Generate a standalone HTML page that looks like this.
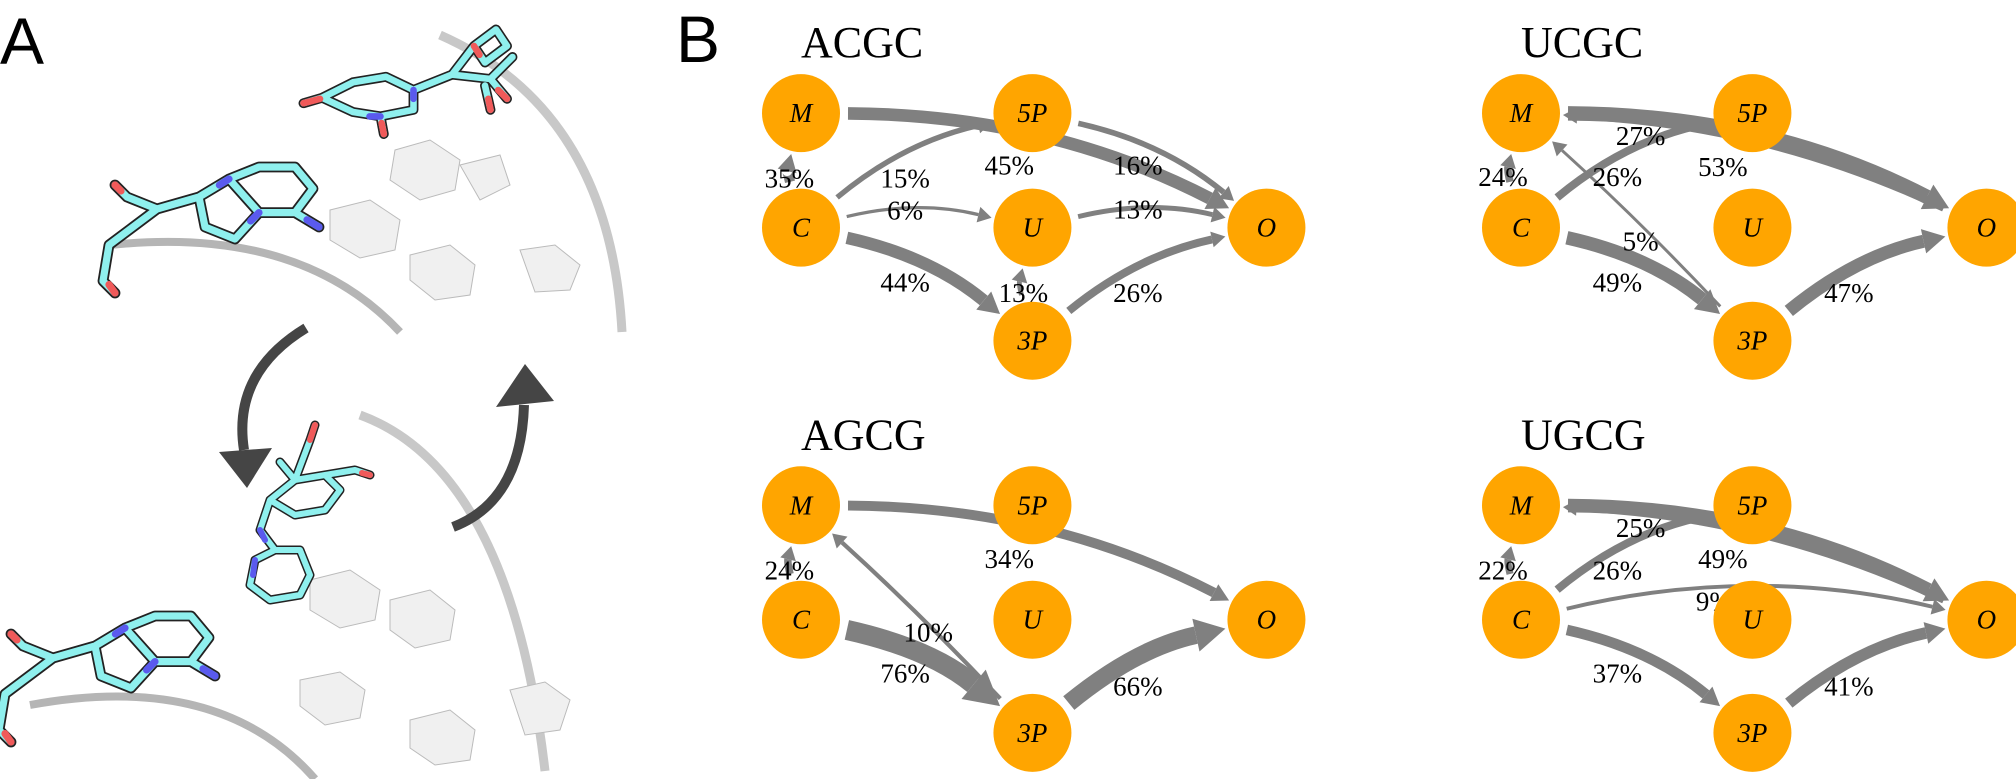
<!DOCTYPE html>
<html><head><meta charset="utf-8">
<style>
html,body{margin:0;padding:0;background:#fff;}
svg{display:block;}
.lbl{font-family:"Liberation Serif",serif;font-size:27px;fill:#000;}
.ttl{font-family:"Liberation Serif",serif;font-size:44px;fill:#000;}
.nd{font-family:"Liberation Serif",serif;font-style:italic;font-size:27px;fill:#000;}
</style></head>
<body>
<svg id="fig" width="2016" height="779" viewBox="0 0 2016 779" xmlns="http://www.w3.org/2000/svg">
<g id="panelA">
  <text x="0" y="64" font-family="Liberation Sans, sans-serif" font-size="66">A</text>
  <path d="M440,35 Q610,110 622,332" fill="none" stroke="#c8c8c8" stroke-width="9"/>
  <path d="M110,245 Q300,225 400,332" fill="none" stroke="#b5b5b5" stroke-width="8"/>
  <path d="M360,415 Q510,470 545,771" fill="none" stroke="#c8c8c8" stroke-width="9"/>
  <path d="M30,705 Q220,670 315,779" fill="none" stroke="#b5b5b5" stroke-width="8"/>
  <g fill="#f0f0f0" stroke="#bbb" stroke-width="1">
    <polygon points="395,150 430,140 460,160 455,190 420,200 390,180"/>
    <polygon points="460,165 500,155 510,185 480,200"/>
    <polygon points="330,210 370,200 400,220 395,250 360,258 330,240"/>
    <polygon points="410,255 450,245 475,265 470,295 435,300 410,280"/>
    <polygon points="520,250 555,245 580,265 570,290 535,292"/>
    <polygon points="310,580 350,570 380,590 375,620 340,628 310,610"/>
    <polygon points="390,600 430,590 455,610 450,640 415,648 390,630"/>
    <polygon points="300,680 340,672 365,690 360,718 325,725 300,706"/>
    <polygon points="410,720 450,710 475,730 470,760 435,765 410,748"/>
    <polygon points="510,690 545,682 570,700 560,730 525,735"/>
  </g>
  <defs>
    <path id="uracilTop" d="M302,107 L330,93 L360,88 L385,100 L385,118 L355,124 L330,120 Z M385,100 L420,86 L440,60 L460,45 L470,60 L450,75 L440,60 M420,86 L455,90 L470,108 M455,90 L475,70 M302,107 L285,112 M355,124 L358,140 M450,96 L455,118"/>
    <path id="adenine" d="M240,150 L265,140 L295,140 L310,158 L295,178 L265,178 Z M240,150 L215,165 L220,190 L245,200 L265,178 M295,178 L315,190 M215,165 L180,175 L155,165 L145,155 M180,175 L160,190 L140,205 L135,235 L145,245"/>
    <path id="midMol" d="M300,470 L325,450 L355,445 L370,460 L355,480 L325,485 Z M300,470 L290,500 L305,520 L330,520 M305,520 L285,530 L280,555 L300,570 L330,565 L340,545 L330,520 M310,432 L325,450 L340,410 L345,395 M355,445 L385,440 L400,445"/>
  </defs>
  <g fill="none" stroke-linejoin="round" stroke-linecap="round">
    <g transform="translate(-10,-20) scale(1.1)">
      <use href="#uracilTop" stroke="#222" stroke-width="9"/>
      <use href="#uracilTop" stroke="#8ff0ee" stroke-width="6"/>
      <path d="M285,112 L300,108 M358,140 L356,130 M455,118 L453,108 M470,108 L462,100 M440,60 L445,68" stroke="#f05a5a" stroke-width="6"/>
      <path d="M385,100 L385,108 M355,124 L345,124" stroke="#5a5aee" stroke-width="6"/>
    </g>
    <g transform="translate(-59,-1) scale(1.2)">
      <use href="#adenine" stroke="#222" stroke-width="9"/>
      <use href="#adenine" stroke="#8ff0ee" stroke-width="6"/>
      <path d="M145,155 L150,160 M145,245 L140,238" stroke="#f05a5a" stroke-width="6"/>
      <path d="M315,190 L305,184 M240,150 L232,155 M265,178 L258,185" stroke="#5a5aee" stroke-width="6"/>
    </g>
    <g transform="translate(-163,448) scale(1.2)">
      <use href="#adenine" stroke="#222" stroke-width="9"/>
      <use href="#adenine" stroke="#8ff0ee" stroke-width="6"/>
      <path d="M145,155 L150,160 M145,245 L140,238" stroke="#f05a5a" stroke-width="6"/>
      <path d="M315,190 L305,184 M240,150 L232,155 M265,178 L258,185" stroke="#5a5aee" stroke-width="6"/>
    </g>
    <g transform="translate(-30,30)">
      <use href="#midMol" stroke="#222" stroke-width="9"/>
      <use href="#midMol" stroke="#8ff0ee" stroke-width="6"/>
      <path d="M340,410 L345,395 M400,445 L392,443" stroke="#f05a5a" stroke-width="6"/>
      <path d="M290,500 L295,510 M285,530 L283,545" stroke="#5a5aee" stroke-width="6"/>
    </g>
  </g>
  <path d="M306,328 Q232,373 244,450" fill="none" stroke="#454545" stroke-width="10"/>
  <polygon points="247,488 219,452 272,448" fill="#454545"/>
  <path d="M453,527 Q521,501 524,405" fill="none" stroke="#454545" stroke-width="10"/>
  <polygon points="525,364 496,407 554,401" fill="#454545"/>
</g>
<text x="676" y="62" font-family="Liberation Sans, sans-serif" font-size="66">B</text>
<g id="panelB"></g>
</svg>
<script>
// ---- data ----
const panelTitles = ["ACGC", "UCGC", "AGCG", "UGCG"];
const nodeNames = ["M", "5P", "C", "U", "O", "3P"];
const edgesACGC = [["C","M",35],["C","5P",15],["C","U",6],["C","3P",44],["3P","U",13],["M","O",45],["5P","O",16],["U","O",13],["3P","O",26]];
const edgesUCGC = [["C","M",24],["O","M",27],["C","5P",26],["M","O",53],["3P","M",5],["C","3P",49],["3P","O",47]];
const edgesAGCG = [["C","M",24],["M","O",34],["3P","M",10],["C","3P",76],["3P","O",66]];
const edgesUGCG = [["C","M",22],["O","M",25],["C","5P",26],["M","O",49],["C","O",9],["C","3P",37],["3P","O",41]];
const panelEdges = [edgesACGC, edgesUCGC, edgesAGCG, edgesUGCG];

// ---- layout ----
const S = 2016/1568;
const panelOrigins = [[623,88],[1183,88],[623,393],[1183,393]];
const nodeRel = {"M":[0,0],"5P":[180,0],"C":[0,89],"U":[180,89],"O":[362,89],"3P":[180,177]};
const labelRel = [
  [[-9,50],[81,50],[81,75],[81,131],[173,139],[162,40],[262,40],[262,74],[262,139]],
  [[-14,49],[93,17],[75,49],[157,41],[93,99],[75,131],[255,139]],
  [[-9,50],[162,41],[99,98],[81,130],[262,140]],
  [[-14,50],[93,17],[75,50],[157,41],[150,74],[75,130],[255,140]]
];
const R = 39;
const NS = "http://www.w3.org/2000/svg";
const root = document.getElementById("panelB");
function mk(tag, attrs, parent){ const e=document.createElementNS(NS,tag); for(const k in attrs) e.setAttribute(k,attrs[k]); parent.appendChild(e); return e; }
function widthOf(v){ return 1.8 + v*0.24; }

panelTitles.forEach((title, p) => {
  const [ox, oy] = panelOrigins[p];
  const pos = n => [(ox + nodeRel[n][0])*S, (oy + nodeRel[n][1])*S];
  const g = mk("g", {}, root);
  
  
  const t = mk("text", {x: ox*S, y: oy*S - 56, class: "ttl"}, g);
  t.textContent = title;
  
  
  const eg = mk("g", {}, g);
  const lg = mk("g", {}, g);
  panelEdges[p].forEach((ed, i) => {
    const [a, b, v] = ed;
    const [x1,y1] = pos(a), [x2,y2] = pos(b);
    const dx=x2-x1, dy=y2-y1, L=Math.hypot(dx,dy);
    const nx=dy/L, ny=-dx/L;
    let rad = 0.12;
    if (dx < -1) rad = Math.abs(dy) < Math.abs(dx)*0.5 ? -0.1 : -0.02;
    const cx=(x1+x2)/2+nx*rad*L, cy=(y1+y2)/2+ny*rad*L;
    let sx=cx-x1, sy=cy-y1, sl=Math.hypot(sx,sy);
    const px1=x1+sx/sl*(R+8), py1=y1+sy/sl*(R+8);
    let ex=cx-x2, ey=cy-y2, el=Math.hypot(ex,ey);
    const w = widthOf(v);
    const head = Math.max(15, w*1.9);
    const px2=x2+ex/el*(R+3), py2=y2+ey/el*(R+3);
    const bx=x2+ex/el*(R+3+head*0.9), by=y2+ey/el*(R+3+head*0.9);
    const path = mk("path", {d:`M${px1},${py1} Q${cx},${cy} ${bx},${by}`, fill:"none", stroke:"#808080", "stroke-width":w}, eg);
    
    
    const ux=ex/el, uy=ey/el, hw=Math.max(8, w*0.95);
    const poly = mk("polygon", {points:`${px2},${py2} ${bx-uy*hw},${by+ux*hw} ${bx+uy*hw},${by-ux*hw}`, fill:"#808080"}, eg);
    
    
    const lr = labelRel[p][i] || [0,0];
    const lt = mk("text", {x:(ox+lr[0])*S, y:(oy+lr[1])*S+10, class:"lbl", "text-anchor":"middle"}, lg);
    lt.textContent = v + "%";
    
    
  });
  nodeNames.forEach(n => {
    const [x,y] = pos(n);
    const c = mk("circle", {cx:x, cy:y, r:R, fill:"#ffa500"}, g);
    
    
    const nt = mk("text", {x:x, y:y+9, class:"nd", "text-anchor":"middle"}, g);
    nt.textContent = n;
    
    
  });
});
</script>
</body></html>
